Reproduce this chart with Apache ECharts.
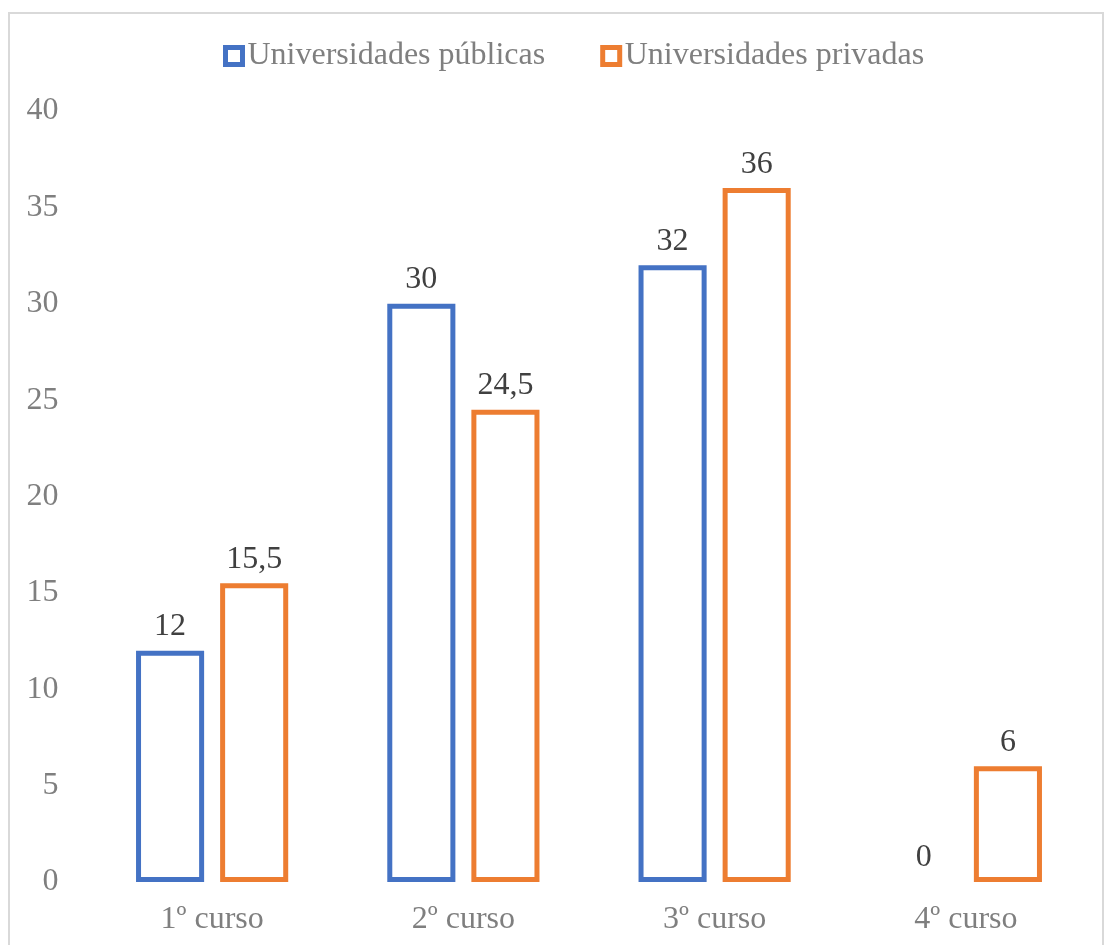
<!DOCTYPE html>
<html>
<head>
<meta charset="utf-8">
<script src="https://cdn.jsdelivr.net/npm/echarts@6/dist/echarts.min.js"></script>
<style>
html,body{margin:0;padding:0;background:#fff;}
#wrap{position:relative;width:1107px;height:945px;overflow:hidden;}
#frame{position:absolute;left:8px;top:12px;width:1096px;height:960px;border:2px solid #d9d9d9;box-sizing:border-box;}
#chart{position:absolute;left:0;top:0;width:1107px;height:945px;}
</style>
</head>
<body>
<div id="wrap"><div id="frame"></div><div id="chart"></div></div>
<script>
const categories = ['1º curso', '2º curso', '3º curso', '4º curso'];
const publicas = [12, 30, 32, 0];
const privadas = [15.5, 24.5, 36, 6];
const seriesNames = ['Universidades públicas', 'Universidades privadas'];
const colors = ['#4472C4', '#ED7D31'];

const font = 'Liberation Serif';
const fmt = p => String(p.value).replace('.', ',');

function toData(arr) {
  return arr.map(v => v === 0 ? { value: v, itemStyle: { borderWidth: 0 } } : v);
}

const chart = echarts.init(document.getElementById('chart'), null, { renderer: 'canvas' });
const mkSeries = (name, data, color) => ({
  name: name,
  type: 'bar',
  data: toData(data),
  barWidth: '27.1%',
  barGap: '23.5%',
  itemStyle: { color: 'rgba(255,255,255,0)', borderColor: color, borderWidth: 5 },
  label: {
    show: true, position: 'top', distance: 8,
    formatter: fmt,
    fontFamily: font, fontSize: 32, color: '#404040'
  }
});

chart.setOption({
  animation: false,
  backgroundColor: 'transparent',
  color: colors,
  legend: {
    top: 35,
    left: 218,
    itemWidth: 17,
    itemHeight: 17,
    itemGap: 55,
    icon: 'rect',
    itemStyle: { color: '#fff', borderWidth: 5 },
    textStyle: { fontFamily: font, fontSize: 32, color: '#7f7f7f' },
    data: seriesNames
  },
  grid: { left: 86.5, right: 15.5, top: 111, bottom: 63, containLabel: false },
  xAxis: {
    type: 'category',
    data: categories,
    axisLine: { show: false },
    axisTick: { show: false },
    axisLabel: { fontFamily: font, fontSize: 32, color: '#7f7f7f', margin: 22 }
  },
  yAxis: {
    type: 'value',
    min: 0, max: 40, interval: 5,
    axisLine: { show: false },
    axisTick: { show: false },
    splitLine: { show: false },
    axisLabel: { fontFamily: font, fontSize: 32, color: '#7f7f7f', margin: 28 }
  },
  series: [
    mkSeries(seriesNames[0], publicas, colors[0]),
    mkSeries(seriesNames[1], privadas, colors[1])
  ]
});
</script>
</body>
</html>
